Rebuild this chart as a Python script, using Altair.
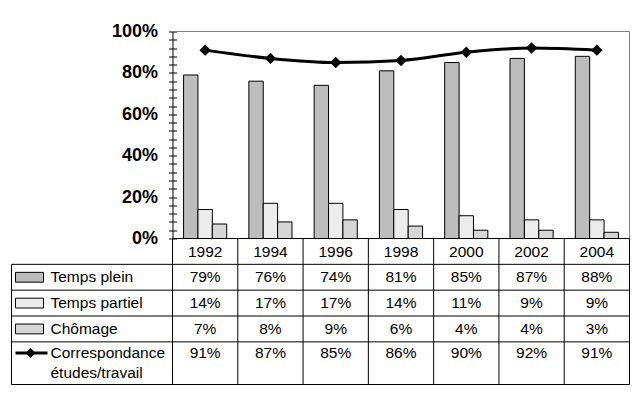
import altair as alt
import pandas as pd

# ---------------- data ----------------
years = ["1992", "1994", "1996", "1998", "2000", "2002", "2004"]
temps_plein = [0.79, 0.76, 0.74, 0.81, 0.85, 0.87, 0.88]
temps_partiel = [0.14, 0.17, 0.17, 0.14, 0.11, 0.09, 0.09]
chomage = [0.07, 0.08, 0.09, 0.06, 0.04, 0.04, 0.03]
correspondance = [0.91, 0.87, 0.85, 0.86, 0.90, 0.92, 0.91]
series_names = ["Temps plein", "Temps partiel", "Chômage"]
line_label_lines = ["Correspondance", "études/travail"]
axis_ticks = [0, 0.04, 0.08, 0.12, 0.16, 0.2, 0.24, 0.28, 0.32, 0.36, 0.4,
              0.44, 0.48, 0.52, 0.56, 0.6, 0.64, 0.68, 0.72, 0.76, 0.8,
              0.84, 0.88, 0.92, 0.96, 1.0]

# ---------------- style / layout ----------------
series_fill = ["#bdbdbd", "#ececec", "#d6d6d6"]
FONT = "Arial"
W, H = 618, 353          # whole drawing area (plot + table)
PX0 = 161                # left edge of plot area inside the view
PH = 207                 # plot area height
ROW_END = 5.65           # table height in row units
row_pos = {"Temps plein": 1, "Temps partiel": 2, "Chômage": 3}
CORR_ROW = 4
CORR_TEXT = [4.43, 5.22]

series_values = [temps_plein, temps_partiel, chomage]
bars_df = pd.DataFrame([
    {"year": y, "series": s, "value": v}
    for s, vals in zip(series_names, series_values)
    for y, v in zip(years, vals)
])
line_df = pd.DataFrame({"year": years, "value": correspondance})

x_scale = alt.Scale(domain=years, range=[PX0, W], paddingInner=0, paddingOuter=0)
y_scale = alt.Scale(domain=[0, 1], range=[PH, 0], nice=False, zero=False)
t_scale = alt.Scale(domain=[0, ROW_END], range=[PH, H], nice=False, zero=False)

X = alt.X("year:N", scale=x_scale, axis=None, sort=years)

bars = alt.Chart(bars_df).mark_bar(stroke="black", strokeWidth=1).encode(
    x=X,
    xOffset=alt.XOffset("series:N", sort=series_names,
                        scale=alt.Scale(domain=series_names, paddingInner=0, paddingOuter=0.77)),
    y=alt.Y("value:Q", scale=y_scale,
            axis=alt.Axis(orient="left", offset=-PX0, values=axis_ticks,
                          labelExpr="round(datum.value*100) % 20 == 0 ? datum.label : ''",
                          format=".0%", tickSize=4, tickColor="black", domainColor="black",
                          labelFont=FONT, labelFontSize=18, labelFontWeight="bold",
                          labelColor="black", labelPadding=11, labelOverlap=False,
                          grid=False, title=None, labelBaseline="middle")),
    color=alt.Color("series:N", scale=alt.Scale(domain=series_names, range=series_fill), legend=None),
)

line = alt.Chart(line_df).mark_line(color="black", strokeWidth=3, interpolate="monotone").encode(
    x=X, y=alt.Y("value:Q", scale=y_scale, axis=None))
pts = alt.Chart(line_df).mark_point(shape="diamond", filled=True, size=130, color="black", opacity=1).encode(
    x=X, y=alt.Y("value:Q", scale=y_scale, axis=None))

frame_df = pd.DataFrame({"lo": [0.0], "hi": [1.0]})
top_rule = alt.Chart(frame_df).mark_rule(color="#808080", strokeWidth=1).encode(
    y=alt.Y("hi:Q", scale=y_scale,
            axis=alt.Axis(orient="right", offset=-(W - PX0), values=axis_ticks, labels=False,
                          domain=False, tickSize=4, tickColor="black", grid=False, title=None)),
    x=alt.value(PX0), x2=alt.value(W))
right_rule = alt.Chart(frame_df).mark_rule(color="#808080", strokeWidth=1).encode(
    x=alt.value(W), y=alt.Y("lo:Q", scale=y_scale, axis=None), y2="hi:Q")

# ---------------- table grid ----------------
hl_df = pd.DataFrame({"u": [1, 2, 3, 4, ROW_END]})
hlines = alt.Chart(hl_df).mark_rule(color="black", strokeWidth=1).encode(
    y=alt.Y("u:Q", scale=t_scale, axis=None), x=alt.value(0), x2=alt.value(W))
base_df = pd.DataFrame({"u": [0]})
baseline = alt.Chart(base_df).mark_rule(color="black", strokeWidth=1).encode(
    y=alt.Y("u:Q", scale=t_scale, axis=None), x=alt.value(PX0), x2=alt.value(W))
vl_df = pd.DataFrame({"year": years, "lo": 0.0, "hi": ROW_END})
vlines = alt.Chart(vl_df).mark_rule(color="black", strokeWidth=1).encode(
    x=alt.X("year:N", scale=x_scale, axis=None, sort=years, bandPosition=0),
    y=alt.Y("lo:Q", scale=t_scale, axis=None), y2="hi:Q")
edge_df = pd.DataFrame({"lo": [1.0], "hi": [ROW_END], "lo0": [0.0]})
left_edge = alt.Chart(edge_df).mark_rule(color="black", strokeWidth=1).encode(
    x=alt.value(0), y=alt.Y("lo:Q", scale=t_scale, axis=None), y2="hi:Q")
right_edge = alt.Chart(edge_df).mark_rule(color="black", strokeWidth=1).encode(
    x=alt.value(W), y=alt.Y("lo0:Q", scale=t_scale, axis=None), y2="hi:Q")

# ---------------- table text ----------------
TXT = dict(font=FONT, fontSize=15.5, color="black", baseline="middle")
hdr_df = pd.DataFrame({"year": years, "pos": 0.53})
header = alt.Chart(hdr_df).mark_text(align="center", **TXT).encode(
    x=X, y=alt.Y("pos:Q", scale=t_scale, axis=None), text="year:N")

val_rows = [{"year": r["year"], "value": r["value"], "pos": row_pos[r["series"]] + 0.5}
            for _, r in bars_df.iterrows()]
val_rows += [{"year": y, "value": v, "pos": CORR_TEXT[0]} for y, v in zip(years, correspondance)]
vals_df = pd.DataFrame(val_rows)
values_txt = alt.Chart(vals_df).mark_text(align="center", **TXT).encode(
    x=X, y=alt.Y("pos:Q", scale=t_scale, axis=None), text=alt.Text("value:Q", format=".0%"))

lab_df = pd.DataFrame(
    [{"label": s, "pos": row_pos[s] + 0.5} for s in series_names]
    + [{"label": t, "pos": p} for t, p in zip(line_label_lines, CORR_TEXT)])
labels_txt = alt.Chart(lab_df).mark_text(align="left", **TXT).encode(
    x=alt.value(39), y=alt.Y("pos:Q", scale=t_scale, axis=None), text="label:N")

sw_df = pd.DataFrame([{"series": s, "top": row_pos[s] + 0.5 - 0.19, "bot": row_pos[s] + 0.5 + 0.19}
                      for s in series_names])
swatches = alt.Chart(sw_df).mark_rect(stroke="black", strokeWidth=1).encode(
    x=alt.value(4), x2=alt.value(32),
    y=alt.Y("top:Q", scale=t_scale, axis=None), y2="bot:Q",
    color=alt.Color("series:N", scale=alt.Scale(domain=series_names, range=series_fill), legend=None))

leg_line_df = pd.DataFrame({"pos": [CORR_TEXT[0]]})
leg_line = alt.Chart(leg_line_df).mark_rule(color="black", strokeWidth=3).encode(
    x=alt.value(4), x2=alt.value(36), y=alt.Y("pos:Q", scale=t_scale, axis=None))
leg_pt = alt.Chart(leg_line_df).mark_point(shape="diamond", filled=True, size=100, color="black", opacity=1).encode(
    x=alt.value(19), y=alt.Y("pos:Q", scale=t_scale, axis=None))

chart = alt.layer(
    bars, top_rule, right_rule, hlines, vlines, left_edge, right_edge, baseline,
    line, pts, header, values_txt, labels_txt, swatches, leg_line, leg_pt,
).resolve_scale(y="independent").properties(
    width=W, height=H, autosize="none",
    padding={"left": 3.5, "top": 23.5, "right": 1.5, "bottom": 1.5},
    background="white",
).configure_view(stroke=None)

chart.save("out.html", embed_options={"renderer": "svg", "actions": False})
